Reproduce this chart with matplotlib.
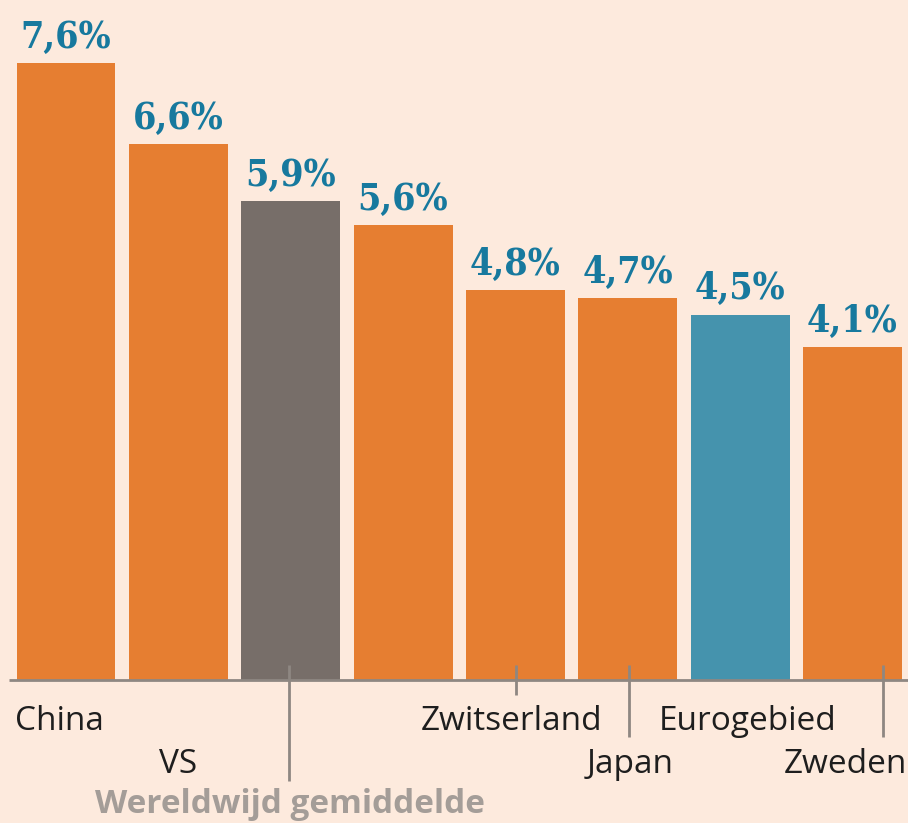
import matplotlib.pyplot as plt
import numpy as np

# data
countries = ['China', 'VS', 'Wereldwijd gemiddelde', '', 'Zwitserland',
             'Japan', 'Eurogebied', 'Zweden']
values = [7.6, 6.6, 5.9, 5.6, 4.8, 4.7, 4.5, 4.1]
kinds = ['land', 'land', 'wereld', 'land', 'land', 'land', 'euro', 'land']

bg = '#fdeadd'
colors = {'land': '#e67e31', 'wereld': '#776e69', 'euro': '#4593ad'}
value_color = '#17799e'
line_color = '#8e8782'

W, H = 908, 823
fig = plt.figure(figsize=(W / 100, H / 100), dpi=100, facecolor=bg)
ax = fig.add_axes([0, 0, 1, 1], facecolor=bg)

# pixel layout of the reference: baseline at y=680, 81.2 px per %
base_px, per_pct = 680, 81.2
x0_px, pitch_px = 66, 112.36


def py(p):
    return (base_px - p) / per_pct


def px(p):
    return (p - x0_px) / pitch_px


ax.set_xlim(px(0), px(W))
ax.set_ylim(py(H), py(0))
ax.axis('off')

x = np.arange(len(values))
ax.bar(x, values, width=0.88, color=[colors[k] for k in kinds], zorder=2)
ax.plot([px(9), px(W)], [0, 0], color=line_color, lw=2, zorder=3,
        solid_capstyle='butt')

for xi, v in zip(x, values):
    ax.annotate(f'{v:.1f}%'.replace('.', ','), (xi, v), xytext=(0, 11),
                textcoords='offset points', ha='center', va='baseline',
                fontsize=27, fontweight='bold', family='DejaVu Serif',
                fontstretch='condensed', color=value_color)

# label placement: (text x px, ha, baseline y px, leader x px, leader end px)
rows = {
    'China': (15, 'left', 730, None, None),
    'VS': (178, 'center', 773, None, None),
    'Wereldwijd gemiddelde': (290, 'center', 813, 289, 781),
    'Zwitserland': (512, 'center', 730, 516, 695),
    'Japan': (630, 'center', 773, 629, 737),
    'Eurogebied': (748, 'center', 730, None, None),
    'Zweden': (907, 'right', 773, 883, 737),
}

for name in countries:
    if not name:
        continue
    tx, ha, ty, lx, ly = rows[name]
    if name == 'Wereldwijd gemiddelde':
        ax.text(px(tx), py(ty), name, ha=ha, va='baseline', fontsize=24,
                family='Open Sans', fontweight='bold', color='#a49d98')
    else:
        ax.text(px(tx), py(ty), name, ha=ha, va='baseline', fontsize=24,
                family='Open Sans', color='#1e1e1e')
    if lx is not None:
        ax.plot([px(lx), px(lx)], [py(665), py(ly)], color=line_color,
                lw=2, zorder=4, solid_capstyle='butt')

fig.savefig('out.png', dpi=100, facecolor=bg)
